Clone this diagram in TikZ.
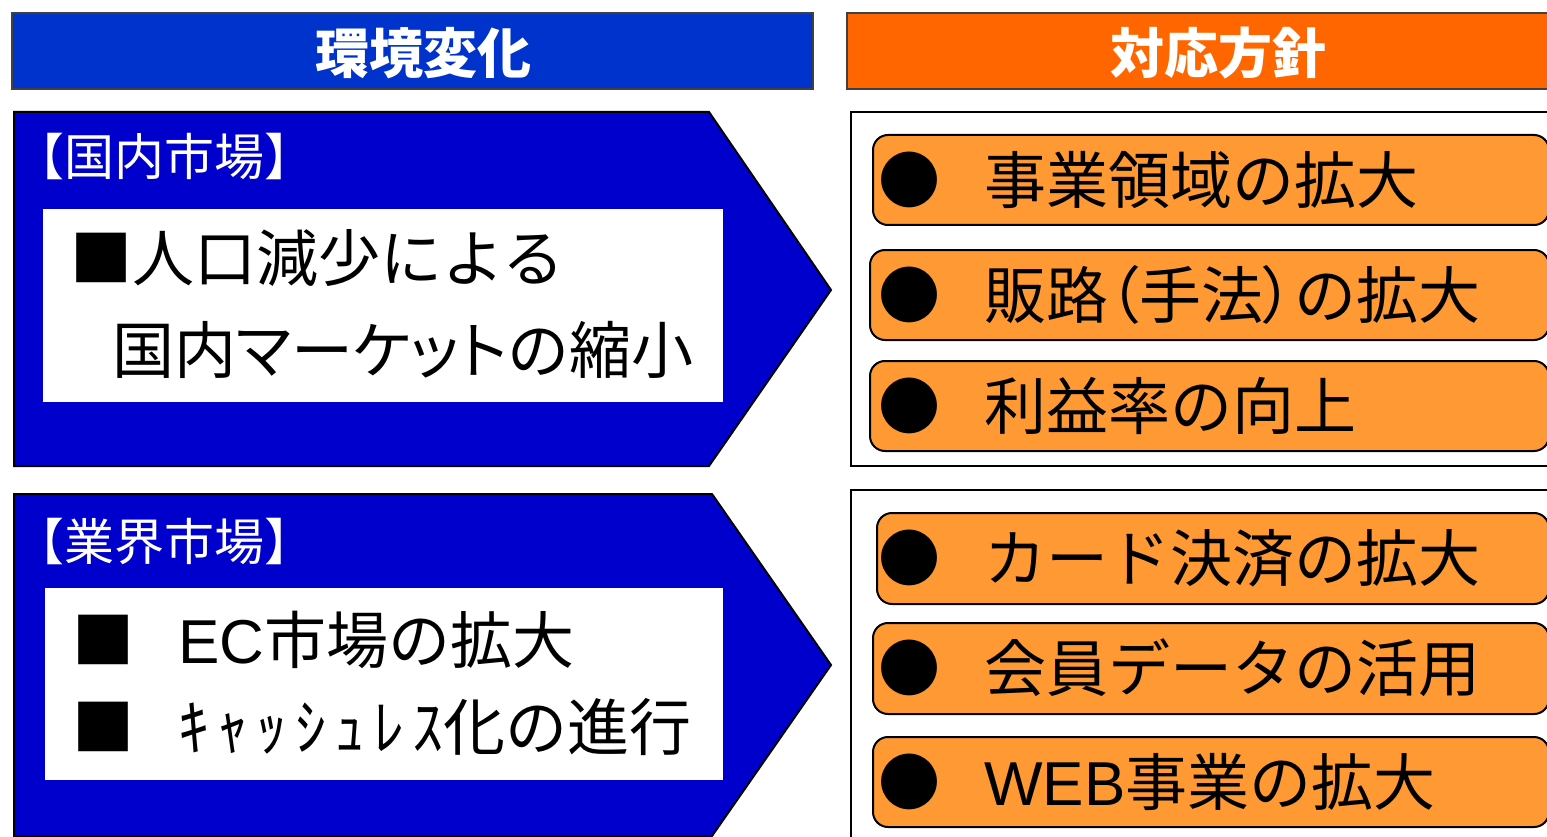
\documentclass[tikz,border=0pt]{standalone}
\usepackage{fontspec}
\setmainfont{Noto Sans CJK JP}
\newfontfamily\propjp[RawFeature=+palt]{Noto Sans CJK JP}
\newfontfamily\latinsf{Liberation Sans}
\usepackage{tikz}

\definecolor{hdrblue}{HTML}{0033CC}
\definecolor{arwblue}{HTML}{0000CC}
\definecolor{hdrorange}{HTML}{FF6600}
\definecolor{itemorange}{HTML}{FF9933}

\tikzset{
  hdrbox/.style={draw=black!75, line width=2.5pt},
  hdrtxt/.style={text=white, inner sep=0pt, font=\fontsize{54}{58}\selectfont\bfseries},
  mktarrow/.style={draw=black, line width=2pt, fill=arwblue},
  mkttag/.style={anchor=west, text=white, inner sep=0pt, font=\fontsize{50}{54}\selectfont},
  mkttxt/.style={anchor=west, inner sep=0pt, font=\fontsize{62}{66}\selectfont},
  itembox/.style={draw=black, line width=2pt, fill=itemorange, rounded corners=15pt},
  itemtxt/.style={anchor=west, inner sep=0pt, font=\fontsize{62}{66}\selectfont}
}

\begin{document}
\begin{tikzpicture}[x=1pt,y=1pt,yscale=-1]
\clip (0,0) rectangle (1547,837);

%Shape: Rectangle [header left]
\draw[hdrbox, fill=hdrblue] (12,13) rectangle (813,89);
%Shape: Rectangle [header right]
\draw[hdrbox, fill=hdrorange] (847,13) rectangle (1560,89);

% Text Node
\node[hdrtxt] (envhdr) at (423,53) {環境変化};
% Text Node
\node[hdrtxt] (polhdr) at (1218,53) {対応方針};

%Shape: Pentagon [domestic market]
\draw[mktarrow] (14,112) -- (709,112) -- (831,290) -- (709,466) -- (14,466) -- cycle;
%Shape: Pentagon [industry market]
\draw[mktarrow] (14,494) -- (712,494) -- (831,665) -- (712,836) -- (14,836) -- (14,840) -- cycle;

%Shape: Rectangle [white inner boxes]
\fill[white] (43,209) rectangle (723,402);
\fill[white] (45,588) rectangle (723,780);

% Text Node
\node[mkttag] (domtag) at (14,157) {【国内市場】};
% Text Node
\node[mkttxt] (dom1) at (70,258) {■人口減少による};
% Text Node
\node[mkttxt] (dom2) at (112,350) {国内{\propjp マーケット}の縮小};

% Text Node
\node[mkttag] (indtag) at (14,541) {【業界市場】};
% Text Node
\node[mkttxt] (ind1) at (72,640) {■\hspace{44pt}{\latinsf EC}市場の拡大};
% Text Node
\node[mkttxt] (ind2) at (72,727) {■\hspace{44pt}{\addfontfeature{LetterSpace=13}ｷｬｯｼｭﾚｽ}化の進行};

%Shape: Rectangle [policy panels]
\draw[line width=2pt, fill=white] (851,112) rectangle (1560,466);
\draw[line width=2pt, fill=white] (851,490) rectangle (1560,845);

%Shape: Rounded Rectangle [policy items]
\draw[itembox] (873,135) rectangle (1549,225);
\draw[itembox] (870,250) rectangle (1549,340);
\draw[itembox] (870,361) rectangle (1549,451);
\draw[itembox] (877,513) rectangle (1549,604);
\draw[itembox] (873,623) rectangle (1549,714);
\draw[itembox] (873,737) rectangle (1549,827);

% Text Node
\node[itemtxt] (pol1) at (878,180) {●\hspace{44pt}事業領域の拡大};
% Text Node
\node[itemtxt] (pol2) at (878,295) {●\hspace{44pt}販路{\propjp（}手法{\propjp）}の拡大};
% Text Node
\node[itemtxt] (pol3) at (878,406) {●\hspace{44pt}利益率の向上};
% Text Node
\node[itemtxt] (pol4) at (878,558) {●\hspace{44pt}カード決済の拡大};
% Text Node
\node[itemtxt] (pol5) at (878,668) {●\hspace{44pt}会員データの活用};
% Text Node
\node[itemtxt] (pol6) at (878,782) {●\hspace{44pt}{\latinsf WEB}事業の拡大};

\end{tikzpicture}
\end{document}
